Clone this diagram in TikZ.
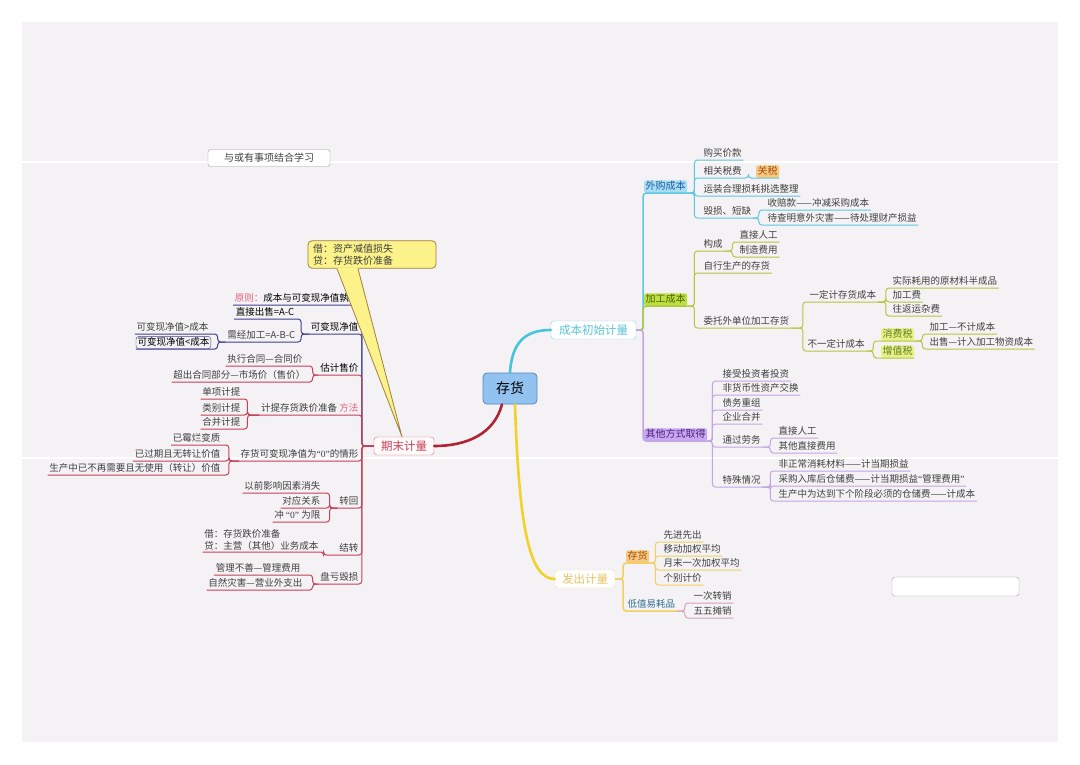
\documentclass[tikz,border=0pt]{standalone}
\usepackage{fontspec}
\setmainfont{Noto Sans CJK SC}
\newfontfamily\latinf{Liberation Serif}
\definecolor{pagebg}{HTML}{F4F2F4}
\definecolor{txt}{HTML}{404040}
\definecolor{cxf}{HTML}{92C2F0}
\definecolor{cxb}{HTML}{5A86B8}
\definecolor{mcyan}{HTML}{48C4DA}
\definecolor{mred}{HTML}{B02236}
\definecolor{myel}{HTML}{F2D22A}
\definecolor{cbb}{HTML}{8AD8E8}
\definecolor{cbt}{HTML}{58C4D8}
\definecolor{qmb}{HTML}{D86878}
\definecolor{qmt}{HTML}{C8405A}
\definecolor{fcb}{HTML}{F0E0A0}
\definecolor{fct}{HTML}{E6C460}
\definecolor{cyanL}{HTML}{5CC8E0}
\definecolor{greenL}{HTML}{B0C840}
\definecolor{purpL}{HTML}{C4A4E4}
\definecolor{yelL}{HTML}{F0D060}
\definecolor{pinkL}{HTML}{D8A0B8}
\definecolor{redL}{HTML}{C84058}
\definecolor{navyL}{HTML}{404090}
\definecolor{pinkT}{HTML}{E06080}
\definecolor{wgf}{HTML}{A8DCF2}
\definecolor{wgt}{HTML}{2060A0}
\definecolor{jgf}{HTML}{BCE040}
\definecolor{jgt}{HTML}{506010}
\definecolor{qtf}{HTML}{C8A8F0}
\definecolor{qtt}{HTML}{502080}
\definecolor{gsf}{HTML}{F8C880}
\definecolor{gst}{HTML}{A05010}
\definecolor{xsf}{HTML}{E8F088}
\definecolor{xst}{HTML}{608020}
\definecolor{dzt}{HTML}{307090}
\definecolor{calf}{HTML}{FBF28A}
\definecolor{calb}{HTML}{A08040}
\newcommand\qz{{\latinf “0”}}
\tikzset{
  nbase/.style={font=\fontsize{9.5}{11}\selectfont, text=txt, inner xsep=1.5pt, inner ysep=1.5pt},
  rt/.style={nbase, anchor=south west, text height=8pt, text depth=1.5pt},
  lt/.style={nbase, anchor=south east, text height=8pt, text depth=1.5pt},
  hl/.style={rt, fill=#1, rounded corners=1.5pt, font=\fontsize{10}{11}\selectfont},
  ln/.style={line width=1pt, rounded corners=3pt, draw=#1},
  mainbox/.style={draw=#1, fill=white, rounded corners=3pt, minimum height=18pt, inner xsep=5pt, font=\fontsize{11.5}{12}\selectfont},
  mainline/.style={line width=2.6pt, draw=#1, line cap=round}
}
\newcommand\lkR[4][7]{\draw[ln=#2] (#3.south east) -- ++(#1,0) |- (#4.south east);}
\newcommand\lkL[4][7]{\draw[ln=#2] (#3.south west) -- ++(-#1,0) |- (#4.south west);}
\begin{document}
\begin{tikzpicture}[x=1pt,y=-1pt]
\fill[white] (0,0) rectangle (1080,764);
\fill[pagebg] (22,22) rectangle (1058,742);
\draw[white, line width=1.2pt] (22,162) -- (1058,162);
\draw[white, line width=1.2pt] (22,458) -- (1058,458);
\useasboundingbox (0,0) rectangle (1080,764);

% top-left note and blank box
\node[draw=gray!80, fill=white, rounded corners=2.5pt, minimum width=122pt, minimum height=17pt, font=\fontsize{10}{11}\selectfont, text=txt] (note) at (269,158) {与或有事项结合学习};
\node[draw=gray!70, fill=white, rounded corners=3pt, minimum width=127pt, minimum height=19pt] (blank) at (955.5,586.5) {};

% centre and main branches
\node[draw=cxb, fill=cxf, rounded corners=4pt, line width=0.8pt, minimum width=54pt, minimum height=31pt, font=\fontsize{14}{16}\selectfont, text=black] (cx) at (510,388.5) {存货};
\node[mainbox=cbb, text=cbt, minimum width=85pt] (cb) at (593.5,330) {成本初始计量};
\node[mainbox=qmb, text=qmt, minimum width=60pt, fill=red!2] (qm) at (404,446) {期末计量};
\node[mainbox=fcb, text=fct, minimum width=60pt] (fc) at (585,579) {发出计量};
\draw[mainline=mcyan] (cx.north) .. controls +(2,-32) and +(-24,0) .. (cb.west);
\draw[mainline=mred] ([xshift=-8pt]cx.south) .. controls +(-8,30) and +(32,0) .. (qm.east);
\draw[mainline=myel] ([xshift=5pt]cx.south) .. controls +(4,125) and +(-25,0) .. (fc.west);

% ===== 成本初始计量 =====
\node[hl=wgf, text=wgt] (wg) at (644,193) {外购成本};
\node[hl=jgf, text=jgt] (jg) at (644,306) {加工成本};
\node[hl=qtf, text=qtt] (qt) at (644,441) {其他方式取得};
\draw[ln=cyanL, line width=1.5pt] (cb.east) -- ++(7,0) |- (wg.south east);
\draw[ln=greenL, line width=1.5pt] (cb.east) -- ++(7,0) |- (jg.south east);
\draw[ln=purpL, line width=1.5pt] (cb.east) -- ++(7,0) |- (qt.south east);

% 外购成本
\node[rt] (w1) at (702,160) {购买价款};
\node[rt] (w2) at (702,178) {相关税费};
\node[rt] (w3) at (702,196) {运装合理损耗挑选整理};
\node[rt] (w4) at (702,218) {毁损、短缺};
\node[hl=gsf, text=gst] (gs) at (756,178) {关税};
\node[rt] (w41) at (766,210) {收赔款——冲减采购成本};
\node[rt] (w42) at (766,225) {待查明意外灾害——待处理财产损益};
\lkR{cyanL}{wg}{w1}\lkR{cyanL}{wg}{w2}\lkR{cyanL}{wg}{w3}\lkR{cyanL}{wg}{w4}
\lkR[5]{cyanL}{w2}{gs}
\lkR[6]{cyanL}{w4}{w41}\lkR[6]{cyanL}{w4}{w42}

% 加工成本
\node[rt] (j1) at (702,251) {构成};
\node[rt] (j11) at (738,242) {直接人工};
\node[rt] (j12) at (738,257) {制造费用};
\node[rt] (j2) at (702,273) {自行生产的存货};
\node[rt] (j3) at (702,328) {委托外单位加工存货};
\node[rt] (j31) at (808,302) {一定计存货成本};
\node[rt] (j311) at (891,288) {实际耗用的原材料半成品};
\node[rt] (j312) at (891,302) {加工费};
\node[rt] (j313) at (891,316) {往返运杂费};
\node[rt] (j32) at (806,351) {不一定计成本};
\node[hl=xsf, text=xst] (j321) at (881,341) {消费税};
\node[hl=xsf, text=xst] (j322) at (881,358) {增值税};
\node[rt] (j3211) at (928,334) {加工—不计成本};
\node[rt] (j3212) at (928,349) {出售—计入加工物资成本};
\lkR{greenL}{jg}{j1}\lkR{greenL}{jg}{j2}\lkR{greenL}{jg}{j3}
\lkR[8]{greenL}{j1}{j11}\lkR[8]{greenL}{j1}{j12}
\lkR[12]{greenL}{j3}{j31}\lkR[12]{greenL}{j3}{j32}
\lkR[8]{greenL}{j31}{j311}\lkR[8]{greenL}{j31}{j312}\lkR[8]{greenL}{j31}{j313}
\lkR[7]{greenL}{j32}{j321}\lkR[7]{greenL}{j32}{j322}
\lkR[8]{greenL}{j321}{j3211}\lkR[8]{greenL}{j321}{j3212}

% 其他方式取得
\node[rt] (q1) at (721,381) {接受投资者投资};
\node[rt] (q2) at (721,395) {非货币性资产交换};
\node[rt] (q3) at (721,410) {债务重组};
\node[rt] (q4) at (721,424) {企业合并};
\node[rt] (q5) at (721,447) {通过劳务};
\node[rt] (q6) at (721,487) {特殊情况};
\node[rt] (q51) at (777,438) {直接人工};
\node[rt] (q52) at (777,453) {其他直接费用};
\node[rt] (q61) at (777,471) {非正常消耗材料——计当期损益};
\node[rt] (q62) at (777,486) {采购入库后仓储费——计当期损益{\latinf “}管理费用{\latinf ”}};
\node[rt] (q63) at (777,501) {生产中为达到下个阶段必须的仓储费——计成本};
\lkR[5]{purpL}{qt}{q1}\lkR[5]{purpL}{qt}{q2}\lkR[5]{purpL}{qt}{q3}
\lkR[5]{purpL}{qt}{q4}\lkR[5]{purpL}{qt}{q5}\lkR[5]{purpL}{qt}{q6}
\lkR[8]{purpL}{q5}{q51}\lkR[8]{purpL}{q5}{q52}
\lkR[8]{purpL}{q6}{q61}\lkR[8]{purpL}{q6}{q62}\lkR[8]{purpL}{q6}{q63}

% ===== 发出计量 =====
\node[hl=gsf, text=gst] (f1) at (626,563) {存货};
\node[rt, text=dzt] (f2) at (626,611) {低值易耗品};
\node[rt] (f11) at (662,542) {先进先出};
\node[rt] (f12) at (662,556) {移动加权平均};
\node[rt] (f13) at (662,570) {月末一次加权平均};
\node[rt] (f14) at (662,585) {个别计价};
\node[rt] (f21) at (692,603) {一次转销};
\node[rt] (f22) at (692,618) {五五摊销};
\draw[ln=yelL, line width=1.5pt] (fc.east) -- ++(8,0) |- (f1.south east);
\draw[ln=yelL, line width=1.5pt] (fc.east) -- ++(8,0) |- (f2.south east);
\lkR[6]{yelL}{f1}{f11}\lkR[6]{yelL}{f1}{f12}\lkR[6]{yelL}{f1}{f13}\lkR[6]{yelL}{f1}{f14}
\lkR[8]{pinkL}{f2}{f21}\lkR[8]{pinkL}{f2}{f22}

% ===== 期末计量 =====
\node[lt, text=black] (l1) at (360,305) {{\color{pinkT}原则：}成本与可变现净值孰低};
\node[lt, text=black] (l2) at (360,334) {可变现净值};
\node[lt, text=black] (l21) at (296,319) {直接出售=A-C};
\node[lt] (l22) at (297,342) {需经加工=A-B-C};
\node[lt] (l221) at (210,334) {可变现净值>成本};
\node[lt, text=black, draw=navyL, rounded corners=3pt] (l222) at (211,349) {可变现净值<成本};
\node[lt, text=black] (l3) at (360,375) {估计售价};
\node[lt] (l31) at (304,366) {执行合同—合同价};
\node[lt] (l32) at (307,382) {超出合同部分—市场价（售价）};
\node[lt] (l4) at (360,415) {计提存货跌价准备 {\color{pinkT}方法}};
\node[lt] (l41) at (242,399) {单项计提};
\node[lt] (l42) at (242,415) {类别计提};
\node[lt] (l43) at (242,429) {合并计提};
\node[lt] (l5) at (360,461) {存货可变现净值为\qz 的情形};
\node[lt] (l51) at (222,445) {已霉烂变质};
\node[lt] (l52) at (222,461) {已过期且无转让价值};
\node[lt] (l53) at (222,475) {生产中已不再需要且无使用（转让）价值};
\node[lt] (l6) at (360,508) {转回};
\node[lt] (l61) at (322,493) {以前影响因素消失};
\node[lt] (l62) at (322,508) {对应关系};
\node[lt] (l63) at (322,522) {冲 \qz\ 为限};
\node[lt] (l7) at (360,555) {结转};
\node[nbase, anchor=south east, align=left, font=\fontsize{9.5}{11.5}\selectfont] (l71) at (320,552) {借：存货跌价准备\\贷：主营（其他）业务成本};
\node[lt] (l8) at (360,584) {盘亏毁损};
\node[lt] (l81) at (302,575) {管理不善—管理费用};
\node[lt] (l82) at (304,590) {自然灾害—营业外支出};

\draw[ln=navyL] (qm.west) -- ++(-12,0) |- (l1.south west);
\draw[ln=navyL] (qm.west) -- ++(-12,0) |- (l2.south west);
\foreach \c in {l3,l4,l5,l6,l7,l8}{\draw[ln=redL] (qm.west) -- ++(-12,0) |- (\c.south west);}
\lkL[8]{navyL}{l2}{l21}\lkL[8]{navyL}{l2}{l22}
\lkL[8]{navyL}{l22}{l221}\lkL[8]{navyL}{l22}{l222}
\lkL[6]{redL}{l3}{l31}\lkL[6]{redL}{l3}{l32}
\lkL[12]{redL}{l4}{l41}\lkL[12]{redL}{l4}{l42}\lkL[12]{redL}{l4}{l43}
\lkL[10]{redL}{l5}{l51}\lkL[10]{redL}{l5}{l52}\lkL[10]{redL}{l5}{l53}
\lkL[8]{redL}{l6}{l61}\lkL[8]{redL}{l6}{l62}\lkL[8]{redL}{l6}{l63}
\lkL[14]{redL}{l7}{l71}
\lkL[6]{redL}{l8}{l81}\lkL[6]{redL}{l8}{l82}

% callout
\node[draw=calb, fill=calf, rounded corners=4pt, line width=0.8pt, text width=118pt, minimum height=27pt, inner xsep=5pt, align=left, font=\fontsize{10}{11.5}\selectfont, text=txt] (cal) at (372,254.5) {借：资产减值损失\\贷：存货跌价准备};
\coordinate (tipL) at ([xshift=-35pt]cal.south);
\coordinate (tipR) at ([xshift=-14pt]cal.south);
\fill[calf] ([yshift=1pt]tipL) -- ([xshift=-2pt]qm.north) -- ([yshift=1pt]tipR) -- cycle;
\draw[calb, line width=0.8pt] (tipL) -- ([xshift=-2pt]qm.north) -- (tipR);
\end{tikzpicture}
\end{document}
